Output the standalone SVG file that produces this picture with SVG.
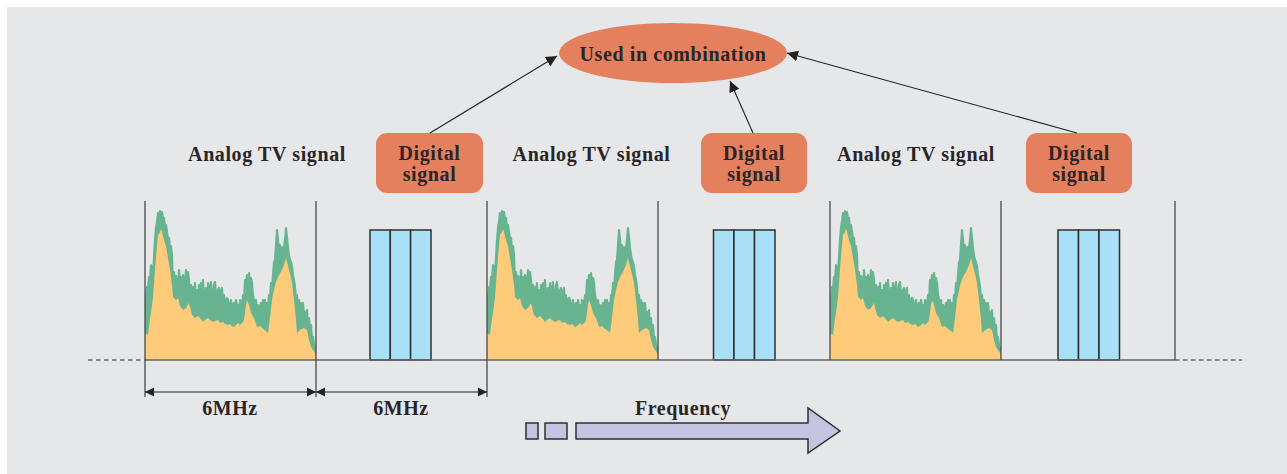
<svg xmlns="http://www.w3.org/2000/svg" xmlns:xlink="http://www.w3.org/1999/xlink" width="1287" height="474" viewBox="0 0 1287 474">
<defs>
<style>
.t{font-family:"Liberation Serif","Times New Roman",serif;font-weight:bold;font-size:20px;fill:#2a2526;letter-spacing:0.6px;text-anchor:middle}
.lbl{fill:#e5805f}
.sep{stroke:#4a4a4a;stroke-width:1.3;fill:none}
.base{stroke:#666;stroke-width:1.6;fill:none}
.dash{stroke:#666;stroke-width:1.6;stroke-dasharray:4.5 3.5;fill:none}
.dig{fill:#aadff8;stroke:#2f2f2f;stroke-width:1.5}
.conn{stroke:#222;stroke-width:1.1;fill:none;marker-end:url(#ah)}
.dim{stroke:#222;stroke-width:1.2;fill:none;marker-start:url(#dh);marker-end:url(#dh)}
.freq{fill:#c4c4e2;stroke:#2f2f2f;stroke-width:1.5}
</style>
<marker id="ah" viewBox="0 0 10 10" refX="10" refY="5" markerWidth="11" markerHeight="11" markerUnits="userSpaceOnUse" orient="auto">
<path d="M0,0 L10,5 L0,10 z" fill="#222"/>
</marker>
<marker id="dh" viewBox="0 0 10 10" refX="10" refY="5" markerWidth="9" markerHeight="10" markerUnits="userSpaceOnUse" orient="auto-start-reverse">
<path d="M0,0 L10,5 L0,10 z" fill="#222"/>
</marker>
<clipPath id="spclip"><rect x="145" y="190" width="171" height="170"/></clipPath>
<g id="spectrum">
<g clip-path="url(#spclip)">
<polygon fill="#68b491" stroke="#68b491" stroke-width="2.2" stroke-linejoin="round" points="145,360 145,333 146,300 147,287 148,290 149,277 150,280 151,265 152,268 153,275 154,258 155,240 156,228 157,222 158,213 159,218 160,211 161,216 162,212 163,220 164,218 165,228 166,225 167,232 168,240 169,238 170,250 171,246 172,255 173,287 174,272 175,285 176,276 177,280 178,290 179,270 180,282 181,277 182,295 183,275 184,285 185,283 186,270 187,290 188,272 189,280 190,297 191,285 192,300 193,287 194,295 195,283 196,305 197,290 198,310 199,285 200,293 201,283 202,300 203,280 204,295 205,300 206,288 207,305 208,283 209,300 210,290 211,282 212,295 213,310 214,285 215,282 216,295 217,307 218,290 219,288 220,305 221,292 222,288 223,310 224,295 225,310 226,300 227,298 228,300 229,320 230,305 231,300 232,312 233,305 234,303 235,318 236,300 237,307 238,305 239,318 240,300 241,302 242,310 243,295 244,303 245,280 246,285 247,275 248,280 249,273 250,283 251,278 252,283 253,295 254,300 255,307 256,300 257,310 258,305 259,315 260,307 261,303 262,310 263,300 264,305 265,300 266,315 267,303 268,310 269,295 270,300 271,283 272,290 273,275 274,262 275,260 276,245 277,230 278,240 279,250 280,245 281,258 282,247 283,255 284,248 285,240 286,228 287,238 288,248 289,255 290,260 291,262 292,267 293,275 294,280 295,287 296,300 297,295 298,307 299,300 300,308 301,303 302,320 303,303 304,315 305,312 306,320 307,310 308,330 309,318 310,333 311,325 312,340 313,337 314,345 315,347 316,350 316,360"/>
<polygon fill="#fecb7a" points="145,360 145,333 148,335 150,318 151,313 153,297 155,270 157,245 158,235 160,232 161,229 162,232 164,240 166,246 168,258 170,270 172,285 173,297 176,300 178,298 180,306 183,310 186,308 189,303 190,307 192,315 195,318 198,316 200,318 203,322 205,320 208,318 210,320 213,322 215,321 218,320 220,323 223,322 225,324 228,325 230,324 233,327 235,326 238,323 240,325 243,322 244,320 246,305 247,300 249,305 251,313 254,318 257,327 260,326 262,328 266,331 268,333 270,318 272,300 274,290 276,282 278,277 281,272 284,265 286,258 287,262 289,270 291,278 292,283 294,300 296,320 297,333 300,330 304,328 307,330 309,340 311,347 313,350 315,353 316,356 316,360"/>
</g>
</g>
</defs>
<rect x="7" y="7" width="1280" height="467" fill="#e6e7e9"/>

<g id="analog-1"><use xlink:href="#spectrum" href="#spectrum"/></g>
<g id="analog-2"><use xlink:href="#spectrum" href="#spectrum" x="342"/></g>
<g id="analog-3"><use xlink:href="#spectrum" href="#spectrum" x="685"/></g>

<g id="digital-bars-1">
<rect class="dig" x="370" y="230" width="20.3" height="130"/>
<rect class="dig" x="390.3" y="230" width="20.3" height="130"/>
<rect class="dig" x="410.6" y="230" width="20.4" height="130"/>
</g>
<g id="digital-bars-2">
<rect class="dig" x="713.5" y="230" width="20.5" height="130"/>
<rect class="dig" x="734" y="230" width="20.5" height="130"/>
<rect class="dig" x="754.5" y="230" width="20.5" height="130"/>
</g>
<g id="digital-bars-3">
<rect class="dig" x="1058" y="230" width="20.5" height="130"/>
<rect class="dig" x="1078.5" y="230" width="20.5" height="130"/>
<rect class="dig" x="1099" y="230" width="20.5" height="130"/>
</g>

<g id="axis">
<path class="dash" d="M88,360 H145 M1175,360 H1242"/>
<path class="base" d="M145,360 H1175"/>
<path class="sep" d="M145,201 V397 M316,201 V397 M487,201 V397 M658,201 V360 M830,201 V360 M1001,201 V360 M1175,201 V360"/>
</g>

<g id="analog-label-1"><text class="t" x="267" y="161">Analog TV signal</text></g>
<g id="analog-label-2"><text class="t" x="591.5" y="161">Analog TV signal</text></g>
<g id="analog-label-3"><text class="t" x="916" y="161">Analog TV signal</text></g>

<g id="digital-label-1">
<rect class="lbl" x="376" y="133" width="107" height="60" rx="11"/>
<text class="t" x="429.5" y="160">Digital</text>
<text class="t" x="429.5" y="181">signal</text>
</g>
<g id="digital-label-2">
<rect class="lbl" x="701" y="133" width="106" height="60" rx="11"/>
<text class="t" x="754" y="160">Digital</text>
<text class="t" x="754" y="181">signal</text>
</g>
<g id="digital-label-3">
<rect class="lbl" x="1026" y="133" width="106" height="60" rx="11"/>
<text class="t" x="1079" y="160">Digital</text>
<text class="t" x="1079" y="181">signal</text>
</g>

<g id="combination">
<ellipse class="lbl" cx="673" cy="53" rx="114" ry="30"/>
<text class="t" x="673" y="61">Used in combination</text>
</g>

<g id="connectors">
<path class="conn" d="M430,133 L557,56"/>
<path class="conn" d="M753,133 L730,81"/>
<path class="conn" d="M1077,133 L787,53"/>
</g>

<g id="dimensions">
<path class="dim" d="M145,392 H316"/>
<path class="dim" d="M316,392 H487"/>
<text class="t" x="230" y="415">6MHz</text>
<text class="t" x="401" y="415">6MHz</text>
</g>

<g id="frequency">
<rect class="freq" x="526" y="423" width="12" height="16"/>
<rect class="freq" x="545" y="423" width="22" height="16"/>
<path class="freq" d="M576,423 H808 V408 L840,431 L808,453 V439 H576 Z"/>
<text class="t" x="683" y="415">Frequency</text>
</g>
</svg>
